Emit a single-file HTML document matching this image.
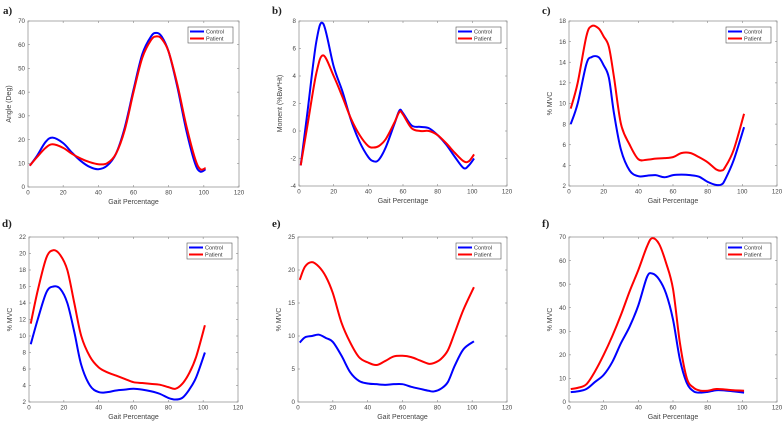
<!DOCTYPE html>
<html><head><meta charset="utf-8"><style>
html,body{margin:0;padding:0;background:#fff;width:784px;height:423px;overflow:hidden}
svg{display:block}
</style></head><body>
<svg id="fig" width="784" height="423" xmlns="http://www.w3.org/2000/svg" font-family="Liberation Sans, sans-serif"></svg>
<script>
const xTicks=[0,20,40,60,80,100,120];
const seriesNames=["Control","Patient"];
const aX=[1,5,10,14,20,25,30,35,40,45,50,55,60,65,70,73,76,80,85,90,95,98,101];
const aControl=[9,13,19,20.8,18.5,14.5,11,8.5,7.5,9,14,25,41,56,63.5,65,63.5,57,42,24,10,6.5,7.5];
const aPatient=[9,12.5,16.5,18,16.5,14,12,10.5,9.6,10,14,24,40,54.5,62,63.5,62.5,57,43,26,12,7.5,8];
const aTicks=[0,10,20,30,40,50,60,70];
const bX=[1,5,10,14,20,25,30,35,40,43,46,50,55,58,60,65,70,75,80,85,90,95,98,101];
const bControl=[-2.5,1.5,6.5,7.8,4.7,2.9,0.8,-0.8,-1.9,-2.2,-2.1,-1.2,0.5,1.5,1.3,0.4,0.3,0.2,-0.3,-1,-1.9,-2.7,-2.5,-2];
const bPatient=[-2.5,0.5,4.2,5.5,4,2.5,0.9,-0.3,-1.1,-1.2,-1.1,-0.6,0.6,1.4,1.2,0.2,0,0,-0.3,-0.9,-1.6,-2.2,-2.2,-1.7];
const bTicks=[-4,-2,0,2,4,6,8];
const cX=[1,5,10,13,17,20,23,26,30,35,40,45,50,55,60,65,70,75,80,85,88,90,95,101];
const cControl=[8,10,13.8,14.5,14.5,13.7,12.5,9,5.5,3.5,2.95,3,3.05,2.85,3.05,3.1,3.05,2.9,2.4,2.1,2.15,2.6,4.5,7.7];
const cPatient=[9.5,12,16.5,17.5,17.3,16.5,15.5,12.5,8,6,4.6,4.55,4.65,4.7,4.8,5.2,5.2,4.8,4.3,3.6,3.5,3.8,5.5,9];
const cTicks=[2,4,6,8,10,12,14,16,18];
const dX=[1,5,10,14,18,22,26,30,35,40,45,50,55,60,65,70,75,80,84,88,92,96,101];
const dControl=[9,12,15.3,16,15.7,14,10.5,6.5,4,3.2,3.2,3.4,3.5,3.6,3.5,3.3,3,2.5,2.3,2.5,3.5,5,8];
const dPatient=[11.5,15.5,19.5,20.4,19.8,18,14,10,7.5,6.2,5.6,5.2,4.8,4.4,4.3,4.2,4.1,3.8,3.6,4.2,5.5,7.5,11.3];
const dTicks=[2,4,6,8,10,12,14,16,18,20,22];
const eX=[1,4,8,12,16,20,25,30,35,40,45,50,55,60,65,70,75,78,82,86,90,95,101];
const eControl=[9,9.8,10,10.2,9.7,9.1,7,4.5,3.2,2.8,2.7,2.6,2.7,2.7,2.3,2,1.7,1.6,2,3,5.5,8,9.2];
const ePatient=[18.5,20.5,21.2,20.5,19,16.5,12,9,6.8,6,5.6,6.2,6.9,7,6.8,6.3,5.8,5.9,6.5,7.8,10.5,14,17.4];
const eTicks=[0,5,10,15,20,25];
const fX=[1,5,10,15,20,25,30,35,40,45,48,52,56,60,64,68,72,76,80,85,90,95,101];
const fControl=[4.2,4.5,5.5,8.5,11.5,17,25,32,41,53,54.5,52,46,35,18,8,4.5,4,4.3,5,4.9,4.5,4];
const fPatient=[5.5,6,7.5,13,20,28,37,47,56,66,69.5,67,59,48,25,10,6,4.8,4.8,5.5,5.3,5,4.8];
const fTicks=[0,10,20,30,40,50,60,70];

const panels=[
 {id:"a",L:28,R:239,T:21,B:187,lx:3,ly:14,x:aX,c:aControl,p:aPatient,t:aTicks,yl:"Angle (Deg)"},
 {id:"b",L:299,R:507,T:21,B:186,lx:272,ly:14,x:bX,c:bControl,p:bPatient,t:bTicks,yl:"Moment (%Bw*Ht)"},
 {id:"c",L:569,R:777,T:21,B:186,lx:542,ly:14,x:cX,c:cControl,p:cPatient,t:cTicks,yl:"% MVC"},
 {id:"d",L:29,R:238,T:237,B:402,lx:2,ly:227,x:dX,c:dControl,p:dPatient,t:dTicks,yl:"% MVC"},
 {id:"e",L:298,R:507,T:237,B:402,lx:272,ly:227,x:eX,c:eControl,p:ePatient,t:eTicks,yl:"% MVC"},
 {id:"f",L:569,R:777,T:237,B:402,lx:542,ly:227,x:fX,c:fControl,p:fPatient,t:fTicks,yl:"% MVC"}
];
const NS="http://www.w3.org/2000/svg";
const svg=document.getElementById("fig");
function mk(tag,attrs,parent){const e=document.createElementNS(NS,tag);for(const k in attrs)e.setAttribute(k,attrs[k]);(parent||svg).appendChild(e);return e;}
function pathD(xs,ys){
 let d="M"+xs[0].toFixed(2)+","+ys[0].toFixed(2);
 for(let i=0;i<xs.length-1;i++){
  const x0=xs[Math.max(i-1,0)],y0=ys[Math.max(i-1,0)],x1=xs[i],y1=ys[i],x2=xs[i+1],y2=ys[i+1],x3=xs[Math.min(i+2,xs.length-1)],y3=ys[Math.min(i+2,ys.length-1)];
  d+=" C"+(x1+(x2-x0)/6).toFixed(2)+","+(y1+(y2-y0)/6).toFixed(2)+" "+(x2-(x3-x1)/6).toFixed(2)+","+(y2-(y3-y1)/6).toFixed(2)+" "+x2.toFixed(2)+","+y2.toFixed(2);
 }
 return d;
}
panels.forEach(P=>{
 const g=mk("g",{});
 
 
 const ymin=P.t[0],ymax=P.t[P.t.length-1];
 const sx=v=>P.L+(v-0)/(120-0)*(P.R-P.L);
 const sy=v=>P.B-(v-ymin)/(ymax-ymin)*(P.B-P.T);
 const lab=mk("text",{x:P.lx,y:P.ly,"font-family":"Liberation Serif, serif","font-weight":"bold","font-size":"11",fill:"#222"},g);
 lab.textContent=P.id+")";
 
 
 mk("rect",{x:P.L,y:P.T,width:P.R-P.L,height:P.B-P.T,fill:"#fff",stroke:"#888","stroke-width":"0.7"},g);
 xTicks.forEach(v=>{
  const x=sx(v);
  mk("line",{x1:x,x2:x,y1:P.B,y2:P.B-2,stroke:"#888","stroke-width":"0.6"},g);
  mk("line",{x1:x,x2:x,y1:P.T,y2:P.T+2,stroke:"#888","stroke-width":"0.6"},g);
  const t=mk("text",{x:x,y:P.B+7.5,"font-size":"6.2","text-anchor":"middle",fill:"#444"},g);
  t.textContent=v;
  
  
 });
 P.t.forEach(v=>{
  const y=sy(v);
  mk("line",{x1:P.L,x2:P.L+2,y1:y,y2:y,stroke:"#888","stroke-width":"0.6"},g);
  mk("line",{x1:P.R,x2:P.R-2,y1:y,y2:y,stroke:"#888","stroke-width":"0.6"},g);
  const t=mk("text",{x:P.L-3,y:y+2.2,"font-size":"6.2","text-anchor":"end",fill:"#444"},g);
  t.textContent=v;
  
  
 });
 const xt=mk("text",{x:(P.L+P.R)/2,y:P.B+17,"font-size":"7","text-anchor":"middle",fill:"#444"},g);
 xt.textContent="Gait Percentage";
 
 
 const yx=P.L-17, yy=(P.T+P.B)/2;
 const yt=mk("text",{x:yx,y:yy,"font-size":"7","text-anchor":"middle",fill:"#444",transform:"rotate(-90 "+yx+" "+yy+")"},g);
 yt.textContent=P.yl;
 
 
 const cl=mk("path",{d:pathD(P.x.map(sx),P.c.map(sy)),fill:"none",stroke:"#0000ff","stroke-width":"2"},g);
 
 
 const pl=mk("path",{d:pathD(P.x.map(sx),P.p.map(sy)),fill:"none",stroke:"#ff0000","stroke-width":"2"},g);
 
 
 const lg=mk("g",{},g);
 
 
 const lx=P.R-51, ly=P.T+6;
 mk("rect",{x:lx,y:ly,width:45,height:16,fill:"#fff",stroke:"#555","stroke-width":"0.6"},lg);
 ["#0000ff","#ff0000"].forEach((col,i)=>{
  const yy2=ly+4.5+i*7;
  mk("line",{x1:lx+2,x2:lx+16,y1:yy2,y2:yy2,stroke:col,"stroke-width":"2"},lg);
  const tt=mk("text",{x:lx+18,y:yy2+2,"font-size":"5.6",fill:"#333"},lg);
  tt.textContent=seriesNames[i];
  
  
 });
});
</script>
</body></html>
